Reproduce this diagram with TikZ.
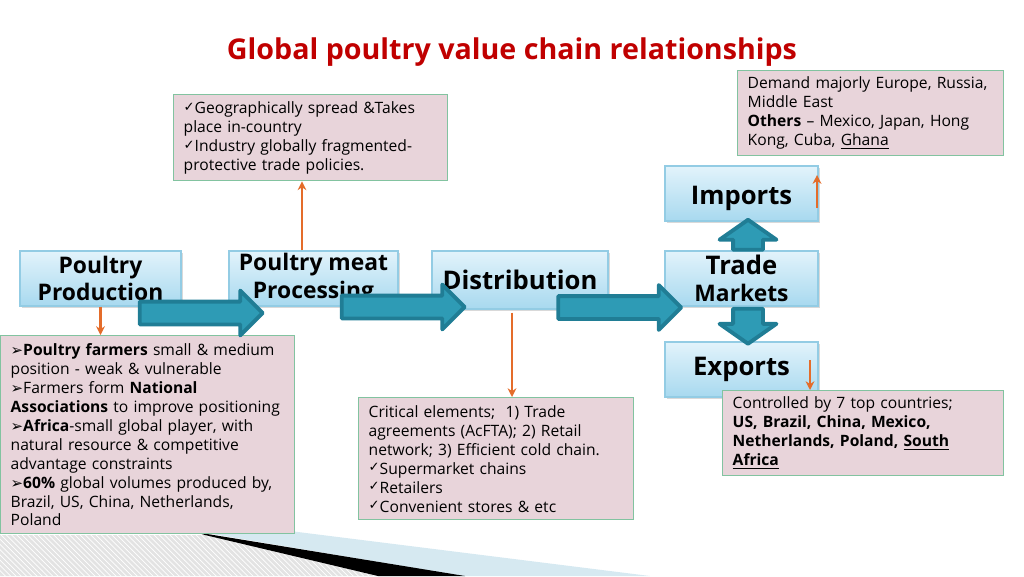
\documentclass[tikz,border=0pt]{standalone}
\usepackage{fontspec}
\setmainfont{Open Sans}
\newfontfamily\symfont{DejaVu Sans}
\usetikzlibrary{shapes.arrows,shadows,patterns,arrows.meta}

\definecolor{titlered}{HTML}{C00000}
\definecolor{notefill}{HTML}{E8D4DA}
\definecolor{noteline}{HTML}{82C3A0}
\definecolor{stagetop}{HTML}{E2F3FB}
\definecolor{stagebot}{HTML}{A8D9EF}
\definecolor{stageline}{HTML}{93CCE4}
\definecolor{flowfill}{HTML}{2E9BB5}
\definecolor{flowline}{HTML}{207D95}
\definecolor{feedline}{HTML}{E46C2A}
\definecolor{stripeblue}{HTML}{D6E9F1}

\newcommand{\bodyfont}{\fontsize{8.9}{10.8}\selectfont}
\newcommand{\okmark}{{\symfont\fontsize{7.5}{6}\selectfont\raisebox{0.3ex}{✓}}}
\newcommand{\ptrmark}{{\symfont\fontsize{8.5}{6}\selectfont ➢}}
\newcommand{\bigfont}{\bfseries\fontsize{14.6}{16}\selectfont}

\begin{document}
\begin{tikzpicture}[x=0.02cm, y=-0.02cm,
    stage/.style={draw=stageline, line width=0.6pt, top color=stagetop, bottom color=stagebot,
        drop shadow={shadow xshift=1.2pt, shadow yshift=-1.2pt, opacity=0.3, fill=gray},
        font=\bfseries\fontsize{13}{15.5}\selectfont, align=center, inner sep=0pt,
        minimum width=3.06cm, minimum height=1.1cm},
    notebox/.style={draw=noteline, line width=0.8pt, fill=notefill, anchor=north west,
        align=left, inner xsep=0.2cm, inner ysep=0pt, font=\bodyfont},
    flow/.style={single arrow, draw=flowline, fill=flowfill, line width=2.2pt, line join=round,
        text height=0pt, text depth=0pt, inner xsep=0pt, inner ysep=0.19cm, minimum width=0pt,
        single arrow tip angle=90, minimum height=2.46cm, single arrow head extend=0.22cm},
    flowv/.style={flow, single arrow tip angle=110, inner ysep=0.26cm, single arrow head extend=0.27cm},
    feed/.style={draw=feedline, line width=1.2pt, -{Stealth[length=5pt,width=5pt]}}
  ]
  \useasboundingbox (0,0) rectangle (1024,576);
  % slide stripe at the bottom
  \fill[gray!22] (0,535) -- (205,535) -- (378,576) -- (0,576) -- cycle;
  \fill[pattern=north west lines, pattern color=white] (0,535) -- (205,535) -- (378,576) -- (0,576) -- cycle;
  \fill[stripeblue] (200,532) -- (290,531) -- (650,576) -- (462,576) -- cycle;
  \fill[black] (195,532) -- (465,576) -- (378,576) -- (205,535) -- cycle;

  \node[font=\bfseries\fontsize{16.3}{18}\selectfont, text=titlered] (title) at (512,52)
    {Global poultry value chain relationships};

  % main chain
  \node[stage, minimum width=3.22cm] (prod) at (100.5,278.5) {Poultry\\Production};
  \node[stage, minimum width=3.38cm] (proc) at (313.5,278.5) {Poultry meat\\Processing};
  \node[stage, minimum width=3.52cm, minimum height=1.16cm, font=\bigfont] (dist) at (520,280) {Distribution};
  \node[stage] (trade) at (741.5,278.5) {{\bigfont Trade}\\Markets};
  \node[stage, font=\bigfont, text depth=0pt] (imports) at (741.5,193.5) {\raisebox{-0.25ex}{Imports}};
  \node[stage, font=\bigfont] (exports) at (741.5,369.5) {Exports};

  % notes
  \node[notebox, text width=4.92cm, minimum height=1.7cm] (demand) at (737,70)
    {Demand majorly Europe, Russia,\\Middle East\\\textbf{Others} – Mexico, Japan, Hong\\Kong, Cuba, \underline{Ghana}};
  \node[notebox, text width=5.08cm, minimum height=1.72cm] (geo) at (173,94)
    {\okmark Geographically spread \&Takes\\place in-country\\\okmark Industry globally fragmented-\\protective trade policies.};
  \node[notebox, text width=5.48cm, minimum height=3.96cm] (farm) at (0,335)
    {\ptrmark\textbf{Poultry farmers} small \& medium\\position - weak \& vulnerable\\
     \ptrmark Farmers form \textbf{National}\\\textbf{Associations} to improve positioning\\
     \ptrmark\textbf{Africa}-small global player, with\\natural resource \& competitive\\advantage constraints\\
     \ptrmark\textbf{60\%} global volumes produced by,\\Brazil, US, China, Netherlands,\\Poland};
  \node[notebox, text width=5.1cm, minimum height=2.44cm] (crit) at (358,397)
    {Critical elements;~ 1) Trade\\agreements (AcFTA); 2) Retail\\network; 3) Efficient cold chain.\\
     \okmark Supermarket chains\\\okmark Retailers\\\okmark Convenient stores \& etc};
  \node[notebox, text width=5.22cm, minimum height=1.7cm] (ctrl) at (722,390)
    {Controlled by 7 top countries;\\\textbf{US, Brazil, China, Mexico,}\\
     \textbf{Netherlands, Poland, \underline{South}}\\\textbf{\underline{Africa}}};

  % block arrows
  \node[flow] (step1) at (195.5,313) {};
  \node[flow] (step2) at (397.5,307) {};
  \node[flow] (step3) at (614,307.5) {};
  \node[flowv, rotate=90, minimum height=0.6cm] (up) at (748,240) {};
  \node[flowv, rotate=-90, minimum height=0.7cm] (down) at (748,321) {};

  % small arrows to the notes
  \coordinate (procfoot) at ([xshift=-0.23cm]proc.north);
  \coordinate (distfoot) at ([xshift=-0.16cm,yshift=-0.06cm]dist.south);
  \coordinate (impfoot) at (817,208);
  \coordinate (imptip) at (817,175);
  \coordinate (expfoot) at (810,360);
  \draw[feed] (prod.south) -- (prod.south |- farm.north);
  \draw[feed] (procfoot) -- (procfoot |- geo.south);
  \draw[feed] (distfoot) -- (distfoot |- crit.north);
  \draw[feed] (impfoot) -- (imptip);
  \draw[feed] (expfoot) -- (expfoot |- ctrl.north);
\end{tikzpicture}
\end{document}
